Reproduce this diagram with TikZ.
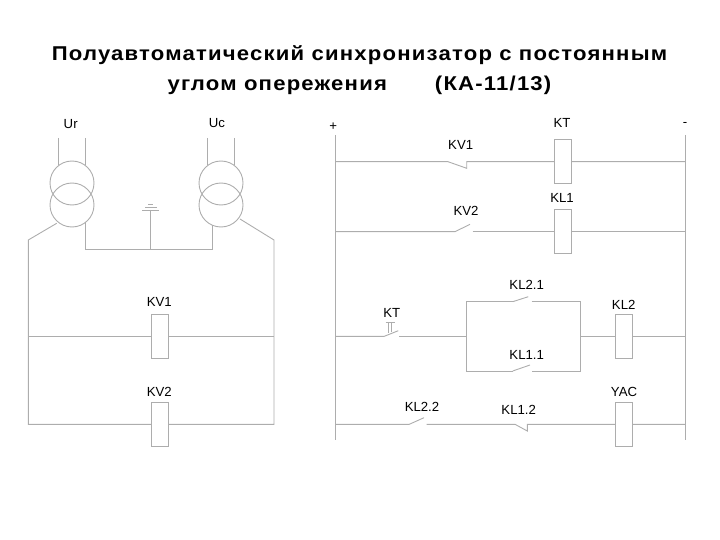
\documentclass[tikz,border=0pt]{standalone}
\usepackage{fontspec}
\setmainfont{Liberation Sans}
\newfontfamily\titlefont[LetterSpace=6,FakeStretch=1.105]{Liberation Sans}
\definecolor{wire}{gray}{0.68}
\tikzset{
	lbl/.style={font=\fontsize{13.2}{15}\selectfont,inner sep=0pt},
	coil/.style={draw=wire,line width=.8pt,fill=white,minimum width=17.3pt,minimum height=44pt,inner sep=0pt},
	wr/.style={draw=wire,line width=.9pt}
}
\begin{document}
\begin{tikzpicture}[x=1pt,y=-1pt,line cap=butt,line join=miter]
	\useasboundingbox (0,0) rectangle (720,540);
	\node[align=center,inner sep=0pt,font=\fontsize{20}{30}\selectfont\titlefont\bfseries] (title) at (359.5,70) {Полуавтоматический синхронизатор с постоянным\\углом опережения\hspace{48pt}(КА-11/13)};
	% labels
	\foreach \n/\x/\y/\t in {ur/70.7/124/Ur,uc/217/122.7/Uc,lkv1/159.3/302/KV1,lkv2/159.3/392.3/KV2,
		plus/333.3/127/+,minus/685/124/-,lkt/562/123.3/KT,lkl1/562/197.7/KL1,lcv1/460.7/145/KV1,lcv2/466/211/KV2,
		lct/391.7/313.3/KT,lc21/526.7/284.7/KL2.1,lc11/526.7/354.7/KL1.1,lkl2/623.7/304.7/KL2,lyac/624/392.3/YAC,
		lc22/422/407/KL2.2,lc12/518.7/410/KL1.2}{
		\node[lbl] (\n) at (\x,\y) {\t};}
	% transformers
	\foreach \n/\x in {l/72,r/221}{
		\draw[wr] (\x,183) circle (22);
		\draw[wr] (\x,205) circle (22);
		\draw[wr] (\x-13.3,138)--(\x-13.3,165.5);
		\draw[wr] (\x+13,138)--(\x+13,165.5);}
	% neutral and ground
	\coordinate (nl) at (85,249.3);
	\coordinate (nr) at (212.3,249.3);
	\coordinate (gnd) at (150.7,210);
	\draw[wr] (85,222.5)--(nl)--(nr)--(212.3,225);
	\draw[wr] (gnd)--(gnd|-nl);
	\draw[wr] (142,210)--(159,210);
	\draw[wr,line width=.6pt] (145,207.3)--(157,207.3);
	\draw[wr,line width=.5pt] (148,204.3)--(153,204.3);
	% voltage circuit
	\coordinate (al) at (28.3,240);
	\coordinate (ar) at (274,240);
	\coordinate (bl) at (28.3,424.3);
	\coordinate (br) at (274,424.3);
	\draw[wr] (56.7,223.3)--(al)--(bl)--(br)--(ar)--(240,219);
	\draw[wr] (al|-0,336.7)--(ar|-0,336.7);
	\node[coil] (kv1) at (159.7,336.3) {};
	\node[coil] (kv2) at (159.7,424.2) {};
	% buses
	\coordinate (plustop) at (335,135);
	\coordinate (plusend) at (335,440);
	\coordinate (mintop) at (685.7,135);
	\coordinate (minend) at (685.7,440);
	\draw[wr] (plustop)--(plusend);
	\draw[wr] (mintop)--(minend);
	% rungs
	\foreach \n/\y in {a/161.7,b/231.7,c/336.3,d/424.3}{
		\coordinate (p\n) at (335,\y);
		\coordinate (m\n) at (685.7,\y);}
	\draw[wr] (pa)--(448,161.7)--(466.7,168.3)--(466.7,161.7)--(ma);
	\draw[wr] (pb)--(455,231.7)--(470,224.3);
	\draw[wr] (472.7,231.7)--(mb);
	\draw[wr] (pc)--(384.3,336.3)--(398.3,330.7);
	\draw[wr] (399.3,336.3)--(466,336.3);
	\draw[wr] (580,336.3)--(mc);
	% time delay mark
	\draw[wr,line width=.6pt] (388.3,322.3)--(388.3,333.3);
	\draw[wr,line width=.6pt] (391.7,322.3)--(391.7,331.5);
	\draw[wr,line width=.6pt] (385.5,322.3)--(394.5,322.3);
	% parallel branch
	\draw[wr] (512.7,301.7)--(466,301.7)--(466,371)--(512.7,371);
	\draw[wr] (531.7,301.7)--(580,301.7)--(580,371)--(531.7,371);
	\draw[wr] (512.7,301.7)--(528.3,296.7);
	\draw[wr] (512.7,371)--(530,365);
	% last rung
	\draw[wr] (pd)--(409.3,424.3)--(424,417.7);
	\draw[wr] (426.7,424.3)--(515,424.3)--(527.3,431)--(527.3,424.3)--(md);
	% coils
	\node[coil] (kt) at (562.7,161.2) {};
	\node[coil] (kl1) at (562.7,231.3) {};
	\node[coil] (kl2) at (624.2,336.3) {};
	\node[coil] (yac) at (624.2,424.2) {};
\end{tikzpicture}
\end{document}
